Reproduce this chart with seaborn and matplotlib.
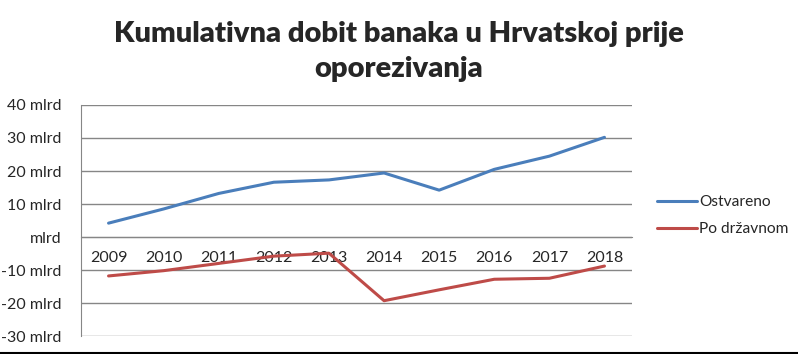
import numpy as np
import pandas as pd
import matplotlib
matplotlib.use('Agg')
import matplotlib.pyplot as plt
import seaborn as sns

years = [2009, 2010, 2011, 2012, 2013, 2014, 2015, 2016, 2017, 2018]
ostvareno = [4.2, 8.5, 13.2, 16.6, 17.3, 19.4, 14.2, 20.5, 24.5, 30.2]
po_drzavnom = [-11.8, -10.2, -8.0, -5.8, -4.9, -19.3, -16.0, -12.8, -12.5, -8.8]
series_names = ['Ostvareno', 'Po državnom']
y_ticks = [-30, -20, -10, 0, 10, 20, 30, 40]

df = pd.DataFrame({
    'year': years * 2,
    'value': ostvareno + po_drzavnom,
    'series': [series_names[0]] * len(years) + [series_names[1]] * len(years),
})

sns.set_style('white')
plt.rcParams['font.family'] = ['Lato', 'DejaVu Sans']

fig = plt.figure(figsize=(7.98, 3.54), dpi=100)
ax = fig.add_axes([0.1015, 0.0508, 0.6905, 0.6526])

sns.lineplot(data=df, x='year', y='value', hue='series',
             palette=['#4a7ebb', '#be4b48'], linewidth=2.2, ax=ax)

ax.set_xlim(years[0] - 0.5, years[-1] + 0.5)
ax.set_ylim(-30, 40)
ax.set_yticks(y_ticks)
ax.set_yticklabels([('%d mlrd' % v) if v != 0 else 'mlrd' for v in y_ticks], fontsize=11.5)
ax.yaxis.grid(True, color='#868686', linewidth=1)
ax.tick_params(axis='y', length=0, pad=14)

# category axis crosses at zero
ax.spines['bottom'].set_position(('data', 0))
ax.spines['bottom'].set_color('#868686')
ax.spines['left'].set_color('#868686')
ax.spines['top'].set_visible(False)
ax.spines['right'].set_visible(False)
ax.set_xticks(years)
ax.set_xticklabels([str(y) for y in years], fontsize=11.5)
ax.set_xticks(np.arange(years[0] - 0.5, years[-1] + 1, 1), minor=True)
ax.tick_params(axis='x', which='major', length=0, pad=10)
ax.tick_params(axis='x', which='minor', length=5, color='#868686', width=1)
ax.set_xlabel('')
ax.set_ylabel('')

ax.legend(loc='center left', bbox_to_anchor=(1.02, 0.52), frameon=False,
          fontsize=11.2, handlelength=2.6, handletextpad=0.1, labelspacing=0.85)

fig.text(0.5, 0.855, 'Kumulativna dobit banaka u Hrvatskoj prije\noporezivanja',
         ha='center', va='center', fontsize=21, fontweight='heavy', linespacing=1.4)

fig.add_artist(plt.Line2D([0, 1], [0.003, 0.003], color='black', linewidth=1.5,
                          transform=fig.transFigure))

fig.savefig('out.png', dpi=100)
